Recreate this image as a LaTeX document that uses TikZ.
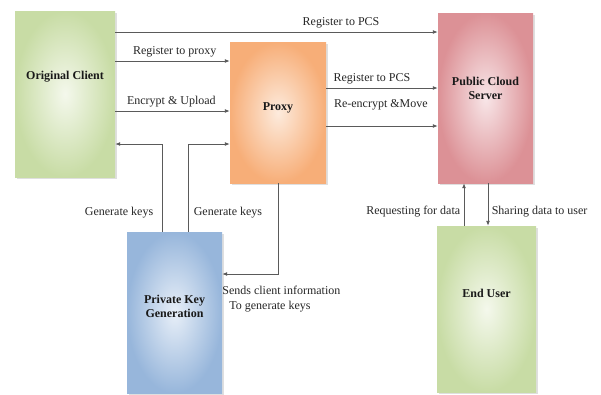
\documentclass[tikz,border=0pt]{standalone}
\usepackage{fontspec}
\setmainfont{Liberation Serif}
\usepackage{tikz}
\usetikzlibrary{arrows.meta}
\usetikzlibrary{shadows}
\definecolor{gruenA}{HTML}{C8DCA5}
\definecolor{gruenB}{HTML}{F4F8EC}
\definecolor{orangeA}{HTML}{F7AE78}
\definecolor{orangeB}{HTML}{FDEBDD}
\definecolor{rotA}{HTML}{DC9196}
\definecolor{rotB}{HTML}{F8E6E8}
\definecolor{blauA}{HTML}{97B6DB}
\definecolor{blauB}{HTML}{E8EFF8}
\definecolor{linie}{HTML}{5A5A5A}

\begin{document}
\begin{tikzpicture}[x=1pt,y=-1pt,
    box/.style={inner sep=0pt, shading=radial, drop shadow={shadow xshift=1.5pt, shadow yshift=-1.5pt, opacity=0.25}},
    boxtext/.style={font=\fontsize{12}{14}\selectfont\bfseries, align=center, text=black!90},
    conn/.style={draw=linie, line width=0.9pt, -{Latex[length=5pt,width=4pt]}},
    lbl/.style={font=\fontsize{12}{14}\selectfont, text=black!85}]
    \useasboundingbox (0,0) rectangle (601,394);

    % Die fuenf Bloecke
    \node[box, inner color=gruenB, outer color=gruenA, minimum width=100pt, minimum height=166pt,
          label={[boxtext, yshift=17pt]center:Original Client}] (oc) at (65,94) {};
    \node[box, inner color=orangeB, outer color=orangeA, minimum width=96pt, minimum height=141pt,
          label={[boxtext, yshift=5pt]center:Proxy}] (proxy) at (278,112.5) {};
    \node[box, inner color=rotB, outer color=rotA, minimum width=95pt, minimum height=170pt,
          label={[boxtext, yshift=10pt]center:Public Cloud\\Server}] (pcs) at (485.5,98) {};
    \node[box, inner color=blauB, outer color=blauA, minimum width=95pt, minimum height=161pt,
          label={[boxtext, yshift=6pt]center:Private Key\\Generation}] (pkg) at (174.5,312.5) {};
    \node[box, inner color=gruenB, outer color=gruenA, minimum width=99pt, minimum height=166pt,
          label={[boxtext, yshift=16pt]center:End User}] (eu) at (486.5,309) {};

    % Verbindungen vom Client
    \draw[conn] (oc.east |- 0,32) -- node[lbl, above, pos=0.70] (l1) {Register to PCS} (pcs.west |- 0,32);
    \draw[conn] (oc.east |- 0,61) -- node[lbl, above, pos=0.52] (l2) {Register to proxy} (proxy.west |- 0,61);
    \draw[conn] (oc.east |- 0,111) -- node[lbl, above, pos=0.49] (l3) {Encrypt \& Upload} (proxy.west |- 0,111);

    % Verbindungen vom Proxy
    \draw[conn] (proxy.east |- 0,88) -- node[lbl, above, pos=0.41] (l4) {Register to PCS} (pcs.west |- 0,88);
    \draw[conn] (proxy.east |- 0,126) -- node[lbl, above=12pt, pos=0.49] (l5) {Re-encrypt \&Move} (pcs.west |- 0,126);

    % Schluessel
    \draw[conn] (pkg.north -| 162,0) |- node[lbl, left=5pt, pos=0.11] (l6) {Generate keys} (oc.east |- 0,144);
    \draw[conn] (pkg.north -| 188,0) |- node[lbl, right=2pt, pos=0.11] (l7) {Generate keys} (proxy.west |- 0,144);
    \draw[conn] (proxy.south) |- (pkg.east |- 0,274);
    \node[lbl, inner sep=0pt, anchor=north west, align=left, font=\fontsize{12}{15}\selectfont]
        (l8) at (pkg.east |- 0,286) {Sends client information\\\hspace{7pt}To generate keys};

    % Server und Nutzer
    \draw[conn] (eu.north -| 464,0) -- node[lbl, left, pos=0.33] (l9) {Requesting for data} (pcs.south -| 464,0);
    \draw[conn] (pcs.south -| 488,0) -- node[lbl, right, pos=0.67] (l10) {Sharing data to user} (eu.north -| 488,0);
\end{tikzpicture}
\end{document}
